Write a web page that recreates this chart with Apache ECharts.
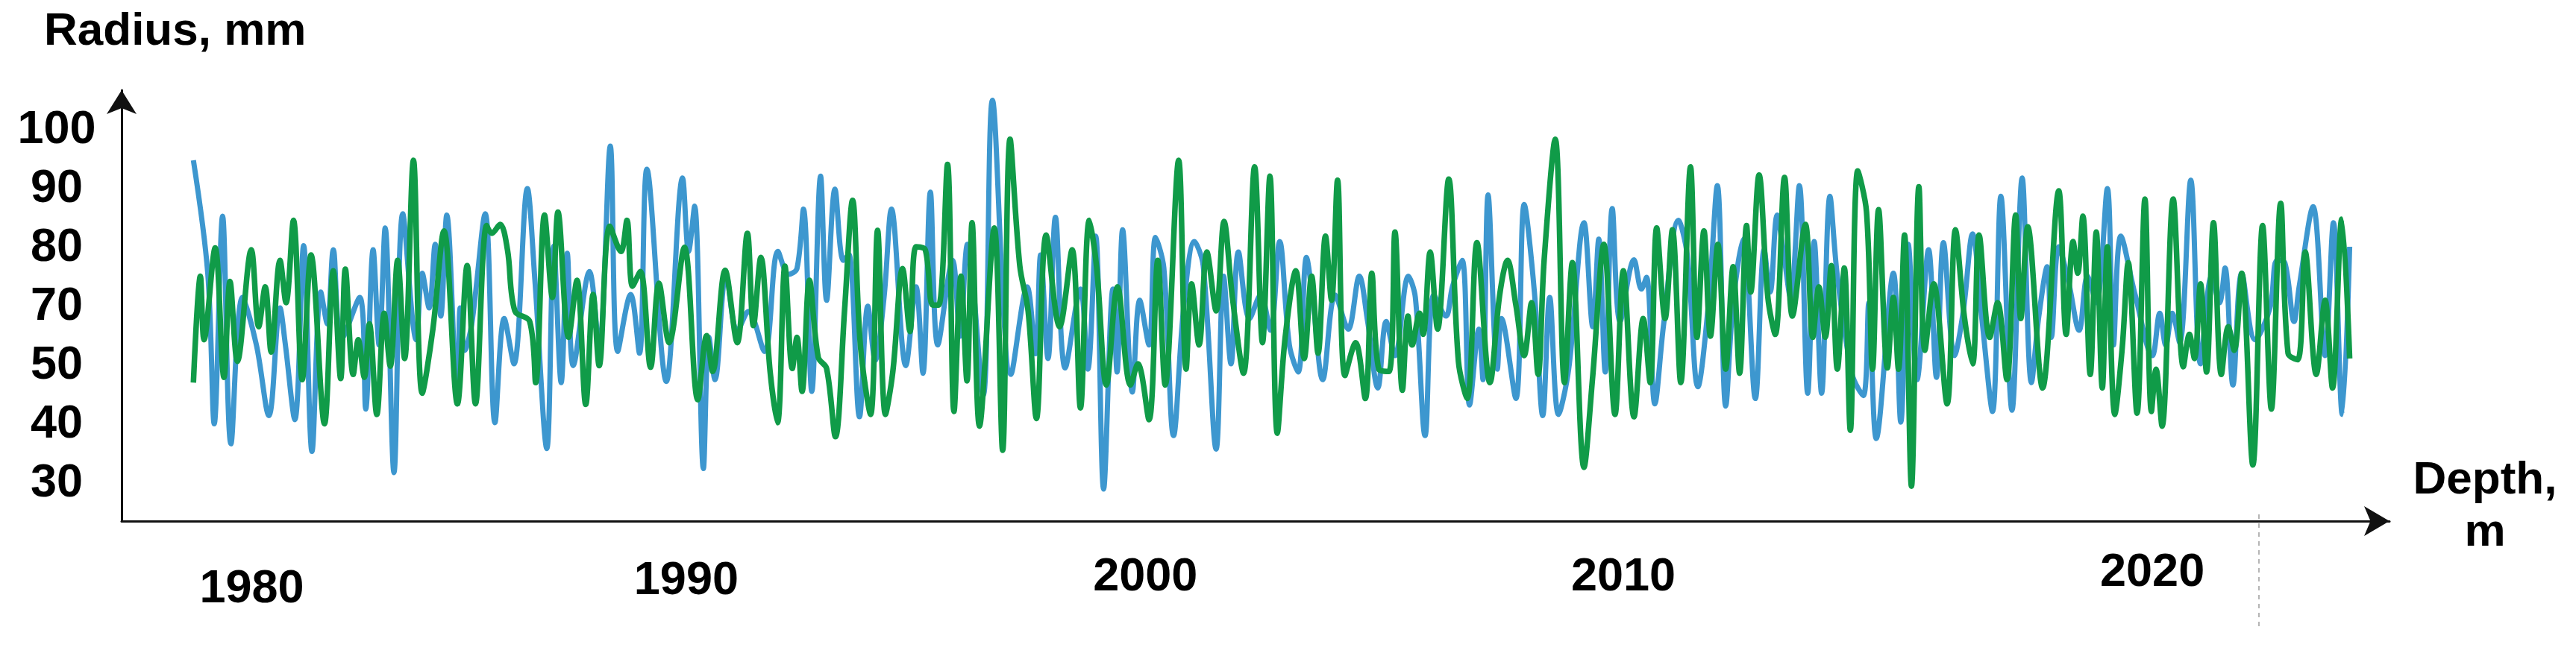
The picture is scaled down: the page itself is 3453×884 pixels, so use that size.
<!DOCTYPE html>
<html lang="en">
<head>
<meta charset="UTF-8" />
<title>Radius by depth</title>
<script src="https://cdn.jsdelivr.net/npm/echarts@6/dist/echarts.min.js"></script>
<style>
  html, body { margin: 0; height: 100%; background: #fff; }
  #chart { width: 3453px; height: 884px; }
</style>
</head>
<body>
<div id="chart"></div>
<script>
  // the printed radius scale skips 60 - ticks are evenly spaced, text is as printed
  var yTickPos = [30, 40, 50, 60, 70, 80, 90];
  var yTickText = ['30', '40', '50', '70', '80', '90', '100'];

  // year labels sit a bit unevenly under the axis
  var xTickPos = [1979.94, 1989.32, 1999.23, 2009.55, 2020.97];
  var xTickText = ['1980', '1990', '2000', '2010', '2020'];
  var xTickDrop = [22, 11, 6, 6, 0];

  var dashedAt = 2023.27;

  // [year, radius]
  var blue = [
    [1978.68,84.9],[1978.99,65.7],[1979.13,40.1],[1979.31,75.4],[1979.49,36.7],[1979.74,61.6],[1980.04,53.5],
    [1980.31,41.5],[1980.55,59.8],[1980.66,53.9],[1980.87,40.8],[1981.06,70.4],[1981.24,35.4],[1981.43,62.5],
    [1981.57,57.1],[1981.70,69.7],[1981.88,54.5],[1982.27,61.6],[1982.40,42.6],[1982.56,69.7],[1982.69,53.5],
    [1982.82,73.4],[1983.01,31.8],[1983.20,75.8],[1983.49,54.4],[1983.62,65.7],[1983.77,59.8],[1983.90,70.6],
    [1984.02,58.4],[1984.15,75.6],[1984.38,43.5],[1984.44,59.8],[1984.54,52.6],[1984.69,57.1],[1984.98,75.8],
    [1985.19,40.3],[1985.39,58],[1985.60,50.3],[1985.89,80.1],[1986.05,64.8],[1986.31,35.9],[1986.46,70.3],
    [1986.62,47.1],[1986.75,69.1],[1986.88,50.0],[1987.23,66.0],[1987.44,53],[1987.68,87.3],[1987.84,52.4],
    [1988.12,62.1],[1988.31,52.1],[1988.47,83.4],[1988.89,47.3],[1989.24,81.9],[1989.37,69.4],[1989.50,77.1],
    [1989.69,32.5],[1989.81,54.8],[1989.94,47.6],[1990.18,65.5],[1990.42,55.8],[1990.66,59.2],[1991.01,52.4],
    [1991.30,69.4],[1991.53,65.5],[1991.71,66.5],[1991.85,76.6],[1992.03,45.6],[1992.22,82.2],[1992.35,61.1],
    [1992.53,80.0],[1992.71,67.9],[1992.83,68.9],[1993.06,41.3],[1993.24,60.1],[1993.40,50.9],[1993.59,61.6],
    [1993.75,76.6],[1994.06,50],[1994.28,63.4],[1994.43,48.7],[1994.59,79.5],[1994.75,53.5],[1995.07,67.9],
    [1995.23,55],[1995.39,70.6],[1995.73,44.9],[1995.93,95.1],[1996.33,48.5],[1996.68,63.4],[1996.86,52],
    [1996.97,68.8],[1997.13,51.2],[1997.29,75.2],[1997.50,49.6],[1997.83,63.0],[1997.99,49.4],[1998.16,72.0],
    [1998.33,29.0],[1998.53,63.0],[1998.62,48.9],[1998.74,73.1],[1998.95,45.5],[1999.11,61.1],[1999.31,53.5],
    [1999.45,71.8],[1999.63,66.6],[1999.84,38.1],[2000.06,60],[2000.29,71.1],[2000.48,67],[2000.76,35.8],
    [2000.92,65.2],[2001.08,50.3],[2001.24,69.3],[2001.48,58],[2001.72,62],[2001.93,56],[2002.13,71.1],
    [2002.34,53.5],[2002.53,48.9],[2002.71,68.4],[2002.85,61],[2003.06,47.6],[2003.33,62],[2003.61,56.2],
    [2003.85,65.2],[2004.03,57.5],[2004.25,46.2],[2004.43,57.5],[2004.62,51.7],[2004.91,65.2],[2005.06,61.6],
    [2005.27,38.1],[2005.46,62.0],[2005.72,58.4],[2005.86,63.4],[2006.07,67.9],[2006.23,43.3],[2006.43,56.2],
    [2006.52,47.6],[2006.63,79.0],[2006.83,49.4],[2006.92,58.0],[2007.23,44.4],[2007.41,77.4],[2007.63,62.5],
    [2007.81,41.5],[2007.96,61.6],[2008.15,41.7],[2008.37,49.4],[2008.70,74.3],[2008.89,56.6],[2009.02,71.5],
    [2009.16,48.9],[2009.31,76.7],[2009.48,57.5],[2009.78,68],[2009.94,63],[2010.05,65],[2010.23,43.5],
    [2010.42,57],[2010.74,74.7],[2010.93,68.8],[2011.16,46.4],[2011.39,60.7],[2011.58,80.6],[2011.76,43.1],
    [2011.92,60.7],[2012.14,71.5],[2012.40,44.4],[2012.59,69.7],[2012.72,62.5],[2012.87,75.6],[2013.00,69.7],
    [2013.16,61.6],[2013.35,80.6],[2013.53,45.3],[2013.67,71.1],[2013.83,45.3],[2014.01,78.8],[2014.17,65.2],
    [2014.49,48.5],[2014.73,44.9],[2014.85,60.7],[2015.01,37.6],[2015.38,65.7],[2015.54,40.4],[2015.70,70.6],
    [2015.89,47.6],[2016.14,69.7],[2016.31,48.0],[2016.46,70.9],[2016.70,51.7],[2016.89,59.3],[2017.09,72.4],
    [2017.29,58.0],[2017.52,42.2],[2017.70,78.8],[2017.94,42.4],[2018.16,81.9],[2018.36,47.1],[2018.52,58.4],
    [2018.70,66.8],[2018.79,54.8],[2018.95,70.2],[2019.16,64.3],[2019.39,56.0],[2019.57,65.2],[2019.76,60.7],
    [2020.00,80.1],[2020.13,53.5],[2020.29,72.0],[2020.60,62],[2020.97,51.7],[2021.13,58.9],[2021.26,53.5],
    [2021.40,58.9],[2021.56,53.9],[2021.80,81.5],[2022.01,50.3],[2022.25,65.2],[2022.42,60.7],[2022.54,66.6],
    [2022.71,46.7],[2022.90,65.7],[2023.19,54.4],[2023.51,59.8],[2023.66,67.9],[2023.83,67.5],[2024.03,57.5],
    [2024.14,63.4],[2024.44,77.0],[2024.70,51.7],[2024.88,74.3],[2025.07,41.7],[2025.23,70.2]
  ];

  var green = [
    [1978.68,47.1],[1978.83,65.2],[1978.91,54.4],[1979.15,70.0],[1979.34,48.0],[1979.47,64.3],[1979.63,50.7],
    [1979.93,69.7],[1980.09,56.6],[1980.23,63.4],[1980.36,52.3],[1980.55,67.9],[1980.68,60.7],[1980.84,74.7],
    [1981.03,47.6],[1981.22,68.8],[1981.51,40.1],[1981.70,66.1],[1981.86,47.8],[1981.96,66.4],[1982.13,48.5],
    [1982.24,54.4],[1982.37,48.0],[1982.48,57.1],[1982.64,41.7],[1982.80,58.9],[1982.93,49.9],[1983.09,67.9],
    [1983.24,51.2],[1983.43,84.9],[1983.62,45.3],[1983.85,56.2],[1984.09,72.9],[1984.38,43.5],[1984.59,67.0],
    [1984.77,43.5],[1985.01,73.8],[1985.12,72.5],[1985.30,74.0],[1985.46,69.7],[1985.62,59.3],[1985.94,57.5],
    [1986.07,47.1],[1986.26,75.6],[1986.43,61.6],[1986.55,76.1],[1986.78,54.8],[1986.96,64.5],[1987.15,43.4],
    [1987.31,62.1],[1987.44,50.0],[1987.67,73.7],[1987.91,69.4],[1988.04,74.7],[1988.16,63.5],[1988.33,66.0],
    [1988.55,49.7],[1988.73,64.0],[1988.95,53.9],[1989.28,70.1],[1989.57,44.2],[1989.76,55.1],[1989.89,49.0],
    [1990.16,66.2],[1990.42,53.9],[1990.64,72.5],[1990.77,56.8],[1990.93,68.4],[1991.13,49.0],[1991.29,40.3],
    [1991.45,66.9],[1991.61,49.5],[1991.71,54.8],[1991.82,45.6],[1991.98,64.5],[1992.17,51.4],[1992.35,49.5],
    [1992.54,37.9],[1992.74,59.7],[1992.91,78.1],[1993.08,53.4],[1993.30,41.7],[1993.45,73.0],[1993.62,41.7],
    [1993.78,49.0],[1993.99,66.5],[1994.15,55.8],[1994.28,70.2],[1994.48,69.7],[1994.64,60.3],[1994.77,60.3],
    [1994.96,84.2],[1995.10,42.2],[1995.25,65.2],[1995.38,47.4],[1995.49,74.3],[1995.65,39.7],[1995.97,73.4],
    [1996.15,35.6],[1996.31,88.5],[1996.52,67.0],[1996.70,59.3],[1996.88,41.0],[1997.09,72.2],[1997.38,56.6],
    [1997.65,69.7],[1997.83,42.8],[1998.02,74.7],[1998.18,66.6],[1998.39,46.7],[1998.63,63.4],[1998.91,46.7],
    [1999.07,50.3],[1999.31,40.8],[1999.50,67.9],[1999.66,46.7],[1999.95,84.9],[2000.11,49.4],[2000.23,63.9],
    [2000.39,53.5],[2000.56,69.3],[2000.76,59.3],[2000.93,74.5],[2001.11,61.6],[2001.35,48.7],[2001.59,83.8],
    [2001.76,53.9],[2001.92,82.2],[2002.08,38.5],[2002.25,54.8],[2002.48,66.1],[2002.66,51.2],[2002.82,65.2],
    [2002.96,52.1],[2003.12,72.0],[2003.25,61.1],[2003.38,81.5],[2003.54,48.3],[2003.77,53.9],[2003.98,44.4],
    [2004.12,65.7],[2004.27,49.4],[2004.49,49],[2004.62,72.7],[2004.78,45.8],[2004.90,58.4],[2004.99,53.5],
    [2005.15,58.9],[2005.23,55.3],[2005.38,69.3],[2005.54,56.2],[2005.78,81.7],[2005.99,50.7],[2006.18,44.4],
    [2006.39,70.9],[2006.67,47.1],[2006.88,62.0],[2007.05,67.9],[2007.23,60.3],[2007.41,51.7],[2007.57,60.7],
    [2007.71,48.5],[2007.84,67.9],[2008.08,88.5],[2008.28,47.1],[2008.45,67.5],[2008.70,32.7],[2008.89,48.3],
    [2009.13,70.6],[2009.37,41.7],[2009.55,66.1],[2009.78,41.3],[2009.98,58.0],[2010.13,47.1],[2010.27,73.4],
    [2010.45,58.0],[2010.61,73.1],[2010.79,47.1],[2011.00,83.8],[2011.14,54.8],[2011.29,72.9],[2011.43,55.0],
    [2011.59,70.6],[2011.76,49.4],[2011.92,66.8],[2012.06,48.7],[2012.21,73.8],[2012.30,62.5],[2012.48,82.4],
    [2012.67,61.6],[2012.83,55.3],[2013.03,82.0],[2013.20,58.4],[2013.48,74.0],[2013.64,54.8],[2013.77,63.4],
    [2013.91,54.8],[2014.04,67.0],[2014.17,49.4],[2014.32,66.6],[2014.45,39.0],[2014.61,83.1],[2014.80,76.1],
    [2014.93,49.4],[2015.06,76.5],[2015.25,49.6],[2015.38,61.6],[2015.49,49.4],[2015.62,72.2],[2015.77,29.5],
    [2015.93,80.4],[2016.06,52.6],[2016.25,63.9],[2016.54,43.5],[2016.72,73.1],[2016.91,58.4],[2017.09,50.3],
    [2017.23,72.2],[2017.46,54.8],[2017.63,60.7],[2017.83,47.6],[2018.02,75.6],[2018.13,58.0],[2018.28,73.6],
    [2018.60,46.2],[2018.95,79.7],[2019.11,55.3],[2019.26,71.1],[2019.36,65.7],[2019.47,75.4],[2019.63,48.5],
    [2019.76,72.7],[2019.89,46.2],[2020.00,70.2],[2020.16,41.7],[2020.32,53.0],[2020.45,67.5],[2020.64,41.9],
    [2020.81,78.3],[2020.95,42.2],[2021.05,49.4],[2021.18,39.7],[2021.42,78.3],[2021.64,49.8],[2021.77,55.3],
    [2021.88,51.2],[2022.01,63.9],[2022.14,48.9],[2022.29,74.3],[2022.46,48.5],[2022.61,56.6],[2022.74,52.6],
    [2022.90,65.7],[2023.14,33.1],[2023.35,73.8],[2023.54,42.6],[2023.74,77.6],[2023.90,52.1],[2024.11,51],
    [2024.27,69.3],[2024.51,48.5],[2024.70,61.1],[2024.86,46.2],[2025.06,74.9],[2025.23,51.2]
  ];

  var font = 'Liberation Sans, Arial, sans-serif';

  function nearest(list, v) {
    var best = 0;
    list.forEach(function (p, i) {
      if (Math.abs(p - v) < Math.abs(list[best] - v)) best = i;
    });
    return best;
  }

  var yearRich = {};
  xTickDrop.forEach(function (d, i) {
    yearRich['y' + i] = {
      padding: [d, 0, 0, 0],
      fontSize: 63, fontWeight: 'bold', fontFamily: font, color: '#000'
    };
  });

  var chart = echarts.init(document.getElementById('chart'));
  chart.setOption({
    animation: false,
    backgroundColor: '#fff',
    title: [
      {
        text: 'Radius, mm',
        left: 59, top: 12, padding: 0,
        textStyle: { fontSize: 62, fontWeight: 'bold', fontFamily: font, color: '#000' }
      },
      {
        // x axis caption, two centred lines right of the arrow
        text: 'Depth,\nm',
        left: 3331, top: 610, padding: 0,
        textAlign: 'center',
        textStyle: { fontSize: 62, fontWeight: 'bold', fontFamily: font, color: '#000', lineHeight: 70 }
      }
    ],
    grid: { left: 163, right: 250, top: 121, bottom: 185, outerBoundsMode: 'none' },
    xAxis: {
      type: 'value',
      min: 1977.13,
      max: 2026.09,
      axisLine: { show: true, symbol: ['none', 'arrow'], symbolSize: [30, 34],
        lineStyle: { color: '#111', width: 3 } },
      axisTick: { show: false },
      splitLine: { show: false },
      axisLabel: {
        customValues: xTickPos,
        verticalAlign: 'top',
        margin: 38,
        formatter: function (v) {
          var i = nearest(xTickPos, v);
          return '{y' + i + '|' + xTickText[i] + '}';
        },
        rich: yearRich
      }
    },
    yAxis: {
      type: 'value',
      min: 23.56,
      max: 96.82,
      axisLine: { show: true, symbol: ['none', 'arrow'], symbolSize: [30, 32],
        lineStyle: { color: '#111', width: 3 } },
      axisTick: { show: false },
      splitLine: { show: false },
      axisLabel: {
        customValues: yTickPos,
        align: 'center',
        margin: 87,
        fontSize: 63, fontWeight: 'bold', fontFamily: font, color: '#000',
        formatter: function (v) { return yTickText[nearest(yTickPos, v)]; }
      }
    },
    series: [
      {
        name: 'blue',
        type: 'line',
        data: blue,
        showSymbol: false,
        smooth: 0.35,
        lineStyle: { color: '#3d97cf', width: 7 },
        z: 2
      },
      {
        name: 'green',
        type: 'line',
        data: green,
        showSymbol: false,
        smooth: 0.35,
        lineStyle: { color: '#109b48', width: 7.5 },
        z: 3
      }
    ],
    graphic: [
      {
        type: 'line',
        id: 'dash',
        shape: { x1: 0, y1: 0, x2: 0, y2: 156 },
        position: [0, 0],
        style: { stroke: '#b5b5b5', lineWidth: 2, lineDash: [6, 6] },
        silent: true
      }
    ]
  });

  // drop the dashed marker under the axis at its year
  var px = chart.convertToPixel({ gridIndex: 0 }, [dashedAt, 23.56]);
  chart.setOption({ graphic: [{ id: 'dash', position: [Math.round(px[0]), Math.round(px[1]) - 9] }] });

  window.onresize = function () { chart.resize(); };
</script>
</body>
</html>
